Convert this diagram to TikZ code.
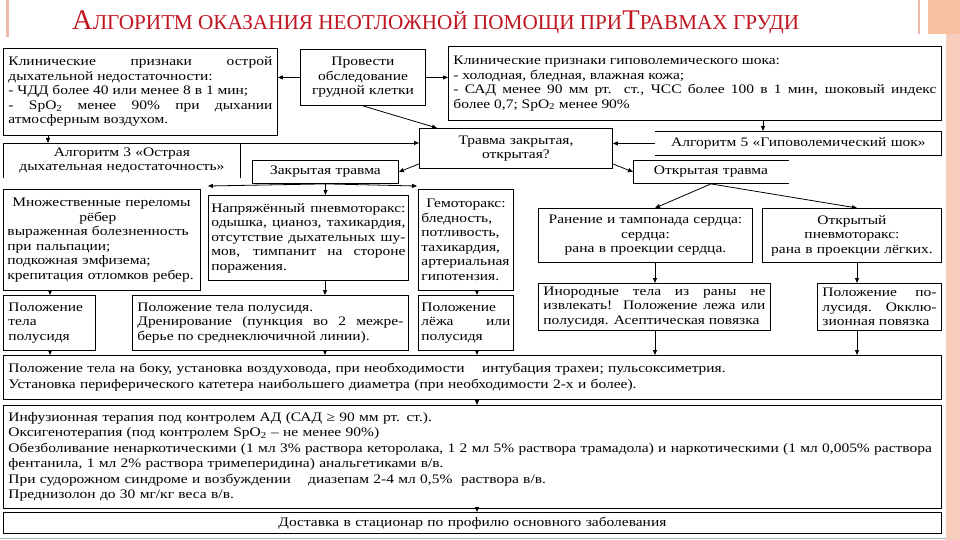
\documentclass[tikz,border=0pt]{standalone}
\usepackage{fontspec}
\setmainfont[FakeStretch=1.19]{Liberation Serif}
\newfontfamily\headfont{Liberation Serif}
\usepackage{xcolor}
\definecolor{crimson}{RGB}{192,22,34}
\definecolor{peach}{RGB}{247,206,188}
\definecolor{blush}{RGB}{236,186,172}
\definecolor{slate}{RGB}{170,178,196}
\usepackage{tikz}
\usetikzlibrary{arrows.meta}
\hyphenpenalty=10000
\exhyphenpenalty=10000
\hbadness=10000
\hfuzz=6pt
\newcommand\boxfont{\fontsize{13}{14.5}\selectfont}
\newcommand\wideboxfont{\fontsize{13}{15.5}\selectfont}
\tikzset{
  blk/.style 2 args={draw=black, line width=0.9pt, anchor=north west,
    inner xsep=5pt, inner ysep=0pt, minimum height=#2,
    text width={\dimexpr#1-10pt\relax}, font=\boxfont},
  bare/.style 2 args={blk={#1}{#2}, draw=none},
  rim/.style={line width=0.9pt},
  arr/.style={-{Triangle[length=5pt,width=4pt]}, line width=0.8pt},
}

\begin{document}
\begin{tikzpicture}[x=1pt, y=-1pt]
\useasboundingbox (0,0) rectangle (960,540);
\fill[peach] (946,34) rectangle (960,540);
\fill[peach!85!orange] (928,0) rectangle (960,34);
\draw[blush, line width=1.2pt] (919,0) -- (919,34);
\fill[blush] (6,0) rectangle (9,37);
\draw[slate, line width=1pt] (0,538) -- (946,538);

\node[anchor=base west, inner sep=0pt, text=crimson, font=\headfont] (title) at (72,30)
  {\fontsize{28.5}{30}\selectfont А\fontsize{21.2}{24}\selectfont ЛГОРИТМ ОКАЗАНИЯ НЕОТЛОЖНОЙ ПОМОЩИ ПРИ\fontsize{28.5}{30}\selectfont Т\fontsize{21.2}{24}\selectfont РАВМАХ ГРУДИ};

\node[blk={274pt}{87pt}, align=justify] (acute) at (3,48)
  {Клинические признаки острой\linebreak дыхательной недостаточности:\\
   - ЧДД более 40 или менее 8 в 1 мин;\\
   - SpO\textsubscript{2} менее 90\% при дыхании\linebreak атмосферным воздухом.};
\node[blk={125pt}{56pt}, align=center] (exam) at (300,49) {Провести\\обследование\\грудной клетки};
\node[blk={493pt}{74pt}, align=justify] (shock) at (448,46)
  {Клинические признаки гиповолемического шока:\\
   - холодная, бледная, влажная кожа;\\
   - САД менее 90 мм рт. ст., ЧСС более 100 в 1 мин, шоковый индекс\linebreak
   более 0,7; SpO\textsubscript{2} менее 90\%};

\node[bare={237pt}{34pt}, align=center] (alg3) at (3,143) {Алгоритм 3 «Острая\\дыхательная недостаточность»};
\draw[rim] (alg3.south west) -- (alg3.north west) -- (alg3.north east) -- (alg3.south east);
\node[blk={193pt}{40pt}, align=center] (kind) at (419,128) {Травма закрытая,\\открытая?};
\node[bare={286pt}{24pt}, align=center] (alg5) at (655,131) {Алгоритм 5 «Гиповолемический шок»};
\draw[rim] (alg5.north west) -- (alg5.north east) -- (alg5.south east) -- (alg5.south west);
\node[blk={146pt}{23pt}, align=center] (closed) at (252,160) {Закрытая травма};
\node[bare={155pt}{23pt}, align=center] (open) at (633,160) {Открытая травма};
\draw[rim] (open.north east) -- (open.north west) -- (open.south west) -- (open.south east);

\node[blk={197pt}{101pt}, inner xsep=4pt, text width=189pt, align=left] (ribs) at (3,189)
  {\hspace*{5pt}Множественные переломы\\ \hspace*{72pt}рёбер\\
   выраженная болезненность\\ при пальпации;\\ подкожная эмфизема;\\ крепитация отломков ребер.};
\node[blk={200pt}{85pt}, inner xsep=3pt, text width=194pt, align=justify] (tension) at (208,195)
  {Напряжённый пневмоторакс:\linebreak одышка, цианоз, тахикардия,\linebreak
   отсутствие дыхательных шу-\linebreak мов, тимпанит на стороне\linebreak поражения.};
\node[blk={95pt}{101pt}, inner xsep=3pt, text width=89pt, align=left] (hemo) at (418,189)
  {\hspace*{5pt}Гемоторакс:\\ бледность,\\ потливость,\\ тахикардия,\\ артериальная\\ гипотензия.};
\node[blk={214pt}{54pt}, align=center] (wound) at (538,208) {Ранение и тампонада сердца:\\ сердца:\\ рана в проекции сердца.};
\node[blk={179pt}{54pt}, align=center] (pneumo) at (762,208) {Открытый\\ пневмоторакс:\\ рана в проекции лёгких.};

\node[blk={92pt}{55pt}, align=left] (semi) at (3,295) {Положение\\ тела\\ полусидя};
\node[blk={276pt}{55pt}, align=justify] (drain) at (132,295)
  {Положение тела полусидя.\\ Дренирование (пункция во 2 межре-\linebreak берье по среднеключичной линии).};
\node[blk={95pt}{55pt}, inner xsep=3pt, text width=89pt, align=left] (lie) at (418,295) {Положение\\ лёжа\hfill или\\ полусидя};
\node[blk={232pt}{47pt}, align=justify] (foreign) at (538,283)
  {Инородные тела из раны не\linebreak извлекать! Положение лежа или\linebreak полусидя. Асептическая повязка};
\node[blk={124pt}{47pt}, align=justify] (occl) at (817,283)
  {Положение по-\linebreak лусидя. Окклю-\linebreak зионная повязка};

\node[blk={938pt}{44pt}, align=left, font=\wideboxfont] (airway) at (3,355)
  {Положение тела на боку, установка воздуховода, при необходимости\quad\ интубация трахеи; пульсоксиметрия.\\
   Установка периферического катетера наибольшего диаметра (при необходимости 2-х и более).};
\node[blk={938pt}{103pt}, align=left, font=\wideboxfont] (infusion) at (3,405)
  {Инфузионная терапия под контролем АД (САД ≥ 90 мм рт. ст.).\\
   Оксигенотерапия (под контролем SpO\textsubscript{2} – не менее 90\%)\\
   Обезболивание ненаркотическими (1 мл 3\% раствора кеторолака, 1 2 мл 5\% раствора трамадола) и наркотическими (1 мл 0,005\% раствора\\
   фентанила, 1 мл 2\% раствора тримеперидина) анальгетиками в/в.\\
   При судорожном синдроме и возбуждении\quad\ диазепам 2-4 мл 0,5\%\ \ раствора в/в.\\
   Преднизолон до 30 мг/кг веса в/в.};
\node[blk={938pt}{21pt}, align=center, font=\wideboxfont] (transport) at (3,512) {Доставка в стационар по профилю основного заболевания};

\draw[arr] (exam.west) -- (exam.west -| acute.east);
\draw[arr] (exam.east) -- (exam.east -| shock.west);
\draw[arr] (exam.south) -- ([xshift=18pt]kind.north west);
\draw[arr] ([xshift=45pt]acute.south west) -- ([xshift=45pt]alg3.north west);
\draw[arr] (alg3.north east) -- (alg3.north east -| kind.west);
\draw[arr] ([xshift=315pt]shock.south west) -- ([xshift=108pt]alg5.north west);
\draw[arr] (alg5.west) -- (alg5.west -| kind.east);
\draw[arr] ([yshift=5pt]kind.south west) -- (closed.east);
\draw[arr] ([yshift=5pt]kind.south east) -- (open.west);
\draw[arr] (closed.south) -- ([shift={(7pt,3pt)}]ribs.north east);
\draw[arr] (closed.south) -- (closed.south |- tension.north);
\draw[arr] (closed.south) -- ([shift={(-1pt,3pt)}]hemo.north west);
\draw[arr] (open.south) -- ([xshift=117pt]wound.north west);
\draw[arr] (open.south) -- ([xshift=95pt]pneumo.north west);
\draw[arr] ([xshift=47pt]ribs.south west) -- ([xshift=47pt]ribs.south west |- semi.north);
\draw[arr] ([xshift=117pt]tension.south west) -- ([xshift=117pt]tension.south west |- drain.north);
\draw[arr] ([xshift=59pt]hemo.south west) -- ([xshift=59pt]hemo.south west |- lie.north);
\draw[arr] ([xshift=117pt]wound.south west) -- ([xshift=117pt]wound.south west |- foreign.north);
\draw[arr] ([xshift=95pt]pneumo.south west) -- ([xshift=95pt]pneumo.south west |- occl.north);
\foreach \n/\dx in {semi/47, drain/193, lie/59, foreign/117, occl/40}
  \draw[arr] ([xshift=\dx pt]\n.south west) -- ([xshift=\dx pt]\n.south west |- airway.north);
\draw[arr] ([xshift=474pt]airway.south west) -- ([xshift=474pt]airway.south west |- infusion.north);
\draw[arr] ([xshift=474pt]infusion.south west) -- ([xshift=474pt]infusion.south west |- transport.north);
\end{tikzpicture}
\end{document}
